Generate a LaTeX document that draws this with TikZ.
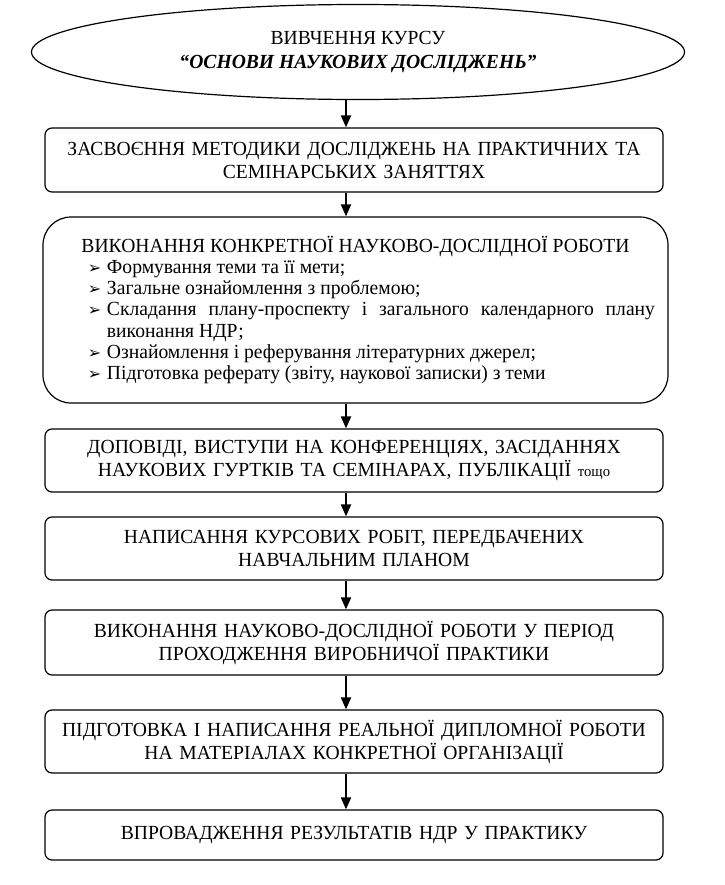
\documentclass[tikz,border=0pt]{standalone}
\usepackage{fontspec}
\usepackage{tikz}
\usetikzlibrary{arrows.meta,shapes.geometric}
\setmainfont{Liberation Serif}[FakeStretch=0.98]
\newfontfamily\symfont{DejaVu Sans}
\newcommand{\bul}{\makebox[19bp][l]{\symfont\fontsize{16bp}{16bp}\selectfont ➢}}
\newcommand{\punkt}[1]{\par\noindent\hangindent=19bp\hangafter=1\bul#1}

\begin{document}
\begin{tikzpicture}[x=1bp,y=-1bp,
    stage/.style={draw, line width=1.2bp, rounded corners=7bp, text width=600bp,
      inner xsep=9bp, inner ysep=0pt, align=center,
      font=\fontsize{20bp}{23bp}\selectfont},
    arr/.style={line width=2bp, -{Triangle[width=10bp,length=12bp]}}]
    \def \bx {354} % x of the boxes' centres
    \useasboundingbox (0,0) rectangle (725,885);
    \node[draw, ellipse, line width=1.2bp, inner sep=0pt, minimum width=653bp,
      minimum height=95bp, align=center, font=\fontsize{20bp}{24bp}\selectfont]
      (kurs) at (358,52) {ВИВЧЕННЯ КУРСУ\\\textbf{\textit{“ОСНОВИ НАУКОВИХ ДОСЛІДЖЕНЬ”}}};
    \node[stage, minimum height=64bp] (zasv) at (\bx,160)
      {ЗАСВОЄННЯ МЕТОДИКИ ДОСЛІДЖЕНЬ НА ПРАКТИЧНИХ ТА\\СЕМІНАРСЬКИХ ЗАНЯТТЯХ};
    \node[stage, rounded corners=28bp, text width=599bp, inner xsep=13bp,
      minimum height=186bp, align=justify] (vykon) at (355.5,310)
      {\centering ВИКОНАННЯ КОНКРЕТНОЇ НАУКОВО-ДОСЛІДНОЇ РОБОТИ\par
       \leftskip=32bp \rightskip=0pt \parfillskip=0pt plus 1fil
       \fontsize{20bp}{21.3bp}\selectfont
       \punkt{Формування теми та її мети;}
       \punkt{Загальне ознайомлення з проблемою;}
       \punkt{Складання плану-проспекту і загального календарного плану\linebreak виконання НДР;}
       \punkt{Ознайомлення і реферування літературних джерел;}
       \punkt{Підготовка реферату (звіту, наукової записки) з теми}\par};
    \node[stage, minimum height=63bp] (dopov) at (\bx,460.5)
      {ДОПОВІДІ, ВИСТУПИ НА КОНФЕРЕНЦІЯХ, ЗАСІДАННЯХ\\НАУКОВИХ ГУРТКІВ ТА СЕМІНАРАХ, ПУБЛІКАЦІЇ {\fontsize{15bp}{23bp}\selectfont тощо}};
    \node[stage, minimum height=63bp] (kursr) at (\bx,548.5)
      {НАПИСАННЯ КУРСОВИХ РОБІТ, ПЕРЕДБАЧЕНИХ\\НАВЧАЛЬНИМ ПЛАНОМ};
    \node[stage, minimum height=65bp] (prakt) at (\bx,642.5)
      {ВИКОНАННЯ НАУКОВО-ДОСЛІДНОЇ РОБОТИ У ПЕРІОД\\ПРОХОДЖЕННЯ ВИРОБНИЧОЇ ПРАКТИКИ};
    \node[stage, minimum height=63bp] (dyplom) at (\bx,741.5)
      {ПІДГОТОВКА І НАПИСАННЯ РЕАЛЬНОЇ ДИПЛОМНОЇ РОБОТИ\\НА МАТЕРІАЛАХ КОНКРЕТНОЇ ОРГАНІЗАЦІЇ};
    \node[stage, minimum height=50bp] (vprov) at (\bx,835)
      {ВПРОВАДЖЕННЯ РЕЗУЛЬТАТІВ НДР У ПРАКТИКУ};
    \coordinate (ax) at (346,0);
    \foreach \a/\b in {kurs/zasv,zasv/vykon,vykon/dopov,dopov/kursr,kursr/prakt,prakt/dyplom,dyplom/vprov}
    {
      \draw[arr] (ax |- \a.south) -- (ax |- \b.north);
    }
\end{tikzpicture}
\end{document}
